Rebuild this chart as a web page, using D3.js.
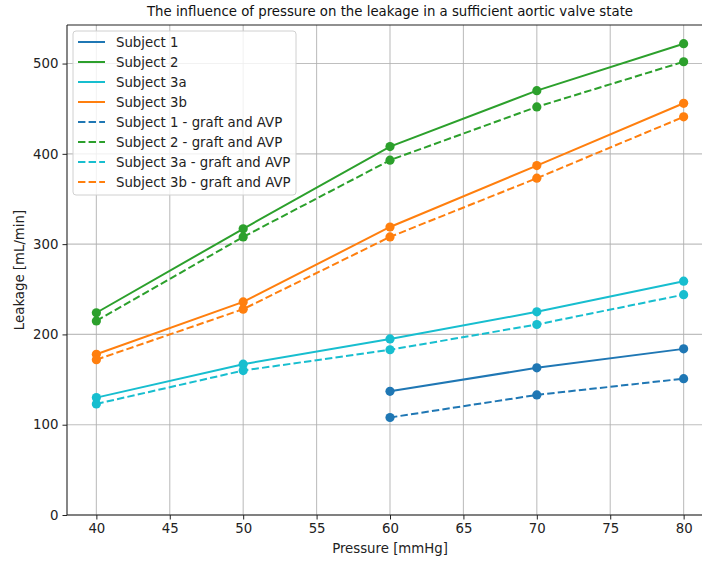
<!DOCTYPE html>
<html><head><meta charset="utf-8">
<script src="https://cdn.jsdelivr.net/npm/d3@7"></script>
<style>body{margin:0;background:#fff;} svg{display:block;font-family:"DejaVu Sans",sans-serif;}</style>
</head><body><svg id="c" width="702" height="563"></svg>
<script>
const pressure = [40, 50, 60, 70, 80];
const subject1 = [null, null, 137, 163, 184];
const subject2 = [224, 317, 408, 470, 522];
const subject3a = [130, 167, 195, 225, 259];
const subject3b = [178, 236, 319, 387, 456];
const subject1AVP = [null, null, 108, 133, 151];
const subject2AVP = [215, 308, 393, 452, 502];
const subject3aAVP = [123, 160, 183, 211, 244];
const subject3bAVP = [172, 228, 308, 373, 441];
const xTicks = [40, 45, 50, 55, 60, 65, 70, 75, 80];
const yTicks = [0, 100, 200, 300, 400, 500];

const series = [
  {name: "Subject 1", vals: subject1, color: "#1f77b4", dash: false},
  {name: "Subject 2", vals: subject2, color: "#2ca02c", dash: false},
  {name: "Subject 3a", vals: subject3a, color: "#17becf", dash: false},
  {name: "Subject 3b", vals: subject3b, color: "#ff7f0e", dash: false},
  {name: "Subject 1 - graft and AVP", vals: subject1AVP, color: "#1f77b4", dash: true},
  {name: "Subject 2 - graft and AVP", vals: subject2AVP, color: "#2ca02c", dash: true},
  {name: "Subject 3a - graft and AVP", vals: subject3aAVP, color: "#17becf", dash: true},
  {name: "Subject 3b - graft and AVP", vals: subject3bAVP, color: "#ff7f0e", dash: true}
];

const L = 67, R = 713, T = 25, B = 515;
const svg = d3.select("#c");
const x = d3.scaleLinear().domain([38, 82]).range([L, R]);
const y = d3.scaleLinear().domain([0, 542.7]).range([B, T]);

const fs = 13.3;
// grid
const g = svg.append("g");
g.selectAll(".gx").data(xTicks).enter().append("line")
  .attr("x1", d => x(d)).attr("x2", d => x(d)).attr("y1", T).attr("y2", B)
  .attr("stroke", "#b0b0b0").attr("stroke-width", 1.1).attr("opacity", 0.8);
g.selectAll(".gy").data(yTicks).enter().append("line")
  .attr("x1", L).attr("x2", R).attr("y1", d => y(d)).attr("y2", d => y(d))
  .attr("stroke", "#b0b0b0").attr("stroke-width", 1.1).attr("opacity", 0.8);

// axes
const xAxis = d3.axisBottom(x).tickValues(xTicks).tickSize(4.5).tickPadding(4);
const yAxis = d3.axisLeft(y).tickValues(yTicks).tickSize(4.5).tickPadding(4);
const xa = svg.append("g").attr("transform", `translate(0,${B})`).call(xAxis);
const ya = svg.append("g").attr("transform", `translate(${L},0)`).call(yAxis);
[xa, ya].forEach(a => {
  a.select(".domain").remove();
  a.selectAll("text").attr("font-size", fs).attr("fill", "#222").attr("font-family", "DejaVu Sans");
  a.selectAll("line").attr("stroke", "#222").attr("stroke-width", 1);
});
// spines
svg.append("line").attr("x1", L).attr("x2", L).attr("y1", T).attr("y2", B).attr("stroke", "#222").attr("stroke-width", 1.1);
svg.append("line").attr("x1", L).attr("x2", R).attr("y1", B).attr("y2", B).attr("stroke", "#222").attr("stroke-width", 1.1);
svg.append("line").attr("x1", L).attr("x2", R).attr("y1", T).attr("y2", T).attr("stroke", "#222").attr("stroke-width", 1.1);
svg.append("line").attr("x1", R).attr("x2", R).attr("y1", T).attr("y2", B).attr("stroke", "#222").attr("stroke-width", 1.1);

// lines
const line = d3.line().defined(d => d.v != null).x(d => x(d.p)).y(d => y(d.v));
series.forEach(s => {
  const pts = pressure.map((p, i) => ({p, v: s.vals[i]}));
  svg.append("path").datum(pts).attr("d", line).attr("fill", "none")
    .attr("stroke", s.color).attr("stroke-width", 2)
    .attr("stroke-dasharray", s.dash ? "7.4,3.2" : null);
  svg.selectAll(null).data(pts.filter(d => d.v != null)).enter().append("circle")
    .attr("cx", d => x(d.p)).attr("cy", d => y(d.v)).attr("r", 4.6).attr("fill", s.color);
});

// title & labels
svg.append("text").attr("x", (L + R) / 2).attr("y", 16).attr("text-anchor", "middle")
  .attr("font-size", fs).attr("fill", "#111").text("The influence of pressure on the leakage in a sufficient aortic valve state");
svg.append("text").attr("x", (L + R) / 2).attr("y", 553).attr("text-anchor", "middle")
  .attr("font-size", fs).attr("fill", "#222").text("Pressure [mmHg]");
svg.append("text").attr("transform", `translate(24,${(T + B) / 2}) rotate(-90)`).attr("text-anchor", "middle")
  .attr("font-size", fs).attr("fill", "#222").text("Leakage [mL/min]");

// legend
const lg = svg.append("g");
lg.append("rect").attr("x", 73).attr("y", 31).attr("width", 223).attr("height", 164).attr("rx", 3)
  .attr("fill", "#fff").attr("fill-opacity", 0.8).attr("stroke", "#d0d0d0").attr("stroke-width", 1);
series.forEach((s, i) => {
  const yy = 42 + i * 20;
  lg.append("line").attr("x1", 78).attr("x2", 105).attr("y1", yy).attr("y2", yy)
    .attr("stroke", s.color).attr("stroke-width", 2).attr("stroke-dasharray", s.dash ? "7.4,3.2" : null);
  lg.append("text").attr("x", 116).attr("y", yy + 4.8).attr("font-size", fs).attr("fill", "#222").text(s.name);
});
</script></body></html>
